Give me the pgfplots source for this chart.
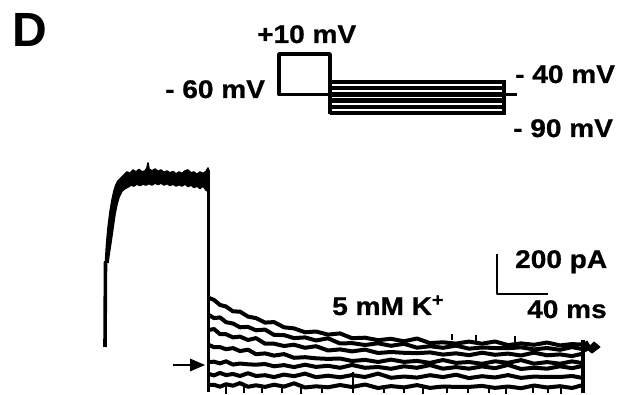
\documentclass[border=0pt]{standalone}
\usepackage{fontspec}
\usepackage{pgfplots}
\pgfplotsset{compat=1.18}
\newfontfamily\lab[FakeStretch=1.1, FakeBold=0.8]{Liberation Sans}
\newfontfamily\labD{Liberation Sans}
\newcommand\labfont{\lab\bfseries\fontsize{25.5}{26}\selectfont}
\begin{document}
\begin{tikzpicture}
\useasboundingbox (0,0) rectangle (622pt,395pt);
\begin{axis}[at={(0,0)}, anchor=south west, scale only axis, width=622pt, height=395pt,
  xmin=0, xmax=622, ymin=0, ymax=395, y dir=reverse, hide axis, clip=false,
  every axis plot/.append style={black, line join=round, mark=none}]
% ---------- voltage protocol ----------
\addplot[line width=3.6pt] coordinates {(330,94.4) (279,94.4) (279,54) (330,54) (330,114)};
\addplot[line width=4.4pt] coordinates {(330,82) (504,82)};
\addplot[line width=4.4pt] coordinates {(330,88.2) (504,88.2)};
\addplot[line width=4.4pt] coordinates {(330,94.4) (504,94.4)};
\addplot[line width=4.4pt] coordinates {(330,100.6) (504,100.6)};
\addplot[line width=4.4pt] coordinates {(330,106.8) (504,106.8)};
\addplot[line width=4.4pt] coordinates {(330,113) (504,113)};
\addplot[line width=3.6pt] coordinates {(504,80) (504,115)};
\addplot[line width=3.6pt] coordinates {(504,94.4) (517,94.4)};
% ---------- scale bar ----------
\addplot[line width=2.8pt] coordinates {(497,254) (497,294) (548,294)};
% ---------- main step current ----------
\addplot[line width=3.6pt] coordinates {(105,347) (105.5,262) (107,262)};
\addplot[fill=black, draw=black, line width=1.6pt] coordinates {
 (105.5,262) (106.5,245) (108,228) (110,212) (112,200) (114,191) (116,185) (118,181) (121,178)
 (124,175) (127,172) (130,173.5) (133,170) (136,172) (139,169.5) (142,172) (145,171) (147,168)
 (148,163) (149,169) (152,171) (155,169) (158,171.5) (161,170) (164,172.5) (167,171) (170,173)
 (173,171.5) (176,174) (179,172) (182,173.5) (185,171) (188,170) (191,173) (194,172) (197,174.5)
 (200,172) (203,173.5) (206,171.5) (208,168) (209,172)
 (209,192) (206,190) (203,186) (200,188.5) (197,186) (194,187.5) (191,185) (188,186.5) (185,184)
 (182,186) (179,184.5) (176,186) (173,184) (170,185.5) (167,183.5) (164,185) (161,183) (158,184.5)
 (155,183) (152,185) (149,183.5) (146,185) (143,184) (140,185.5) (137,184) (134,186) (131,185)
 (128,187) (125,188.5) (122,191) (119,197) (117,204) (115,214) (113,228) (111,242) (109,255) (108,263)};
\addplot[line width=3.8pt] coordinates {(208.5,170) (208.5,392)};
% ---------- tail currents ----------
\addplot[line width=4pt] coordinates {
(209,298) (214,299.9) (220,305) (226,306.5) (233,311.4) (240,311.6) (248,316.6) (256,318.1)
(265,322.6) (274,322.1) (284,327.3) (294,328.4) (305,332.3) (316,331.5) (328,334.6) (340,333.4)
(352,338.2) (365,337.7) (378,340.2) (391,338.8) (404,341.3) (417,338.5) (430,343.1) (443,342.3)
(456,343.6) (469,341.6) (482,343.7) (495,341.5) (508,345.1) (521,343.4) (534,344.8) (547,342.5)
(560,345.4) (572,344.1) (583,344.6)};
\addplot[line width=4pt] coordinates {
(209,315) (214,318.1) (220,317.4) (226,322.2) (233,323.5) (240,327.3) (248,326.9) (256,330.3)
(265,329.6) (274,334.9) (284,335.1) (294,338.1) (305,337.4) (316,340.5) (328,338.3) (340,343.5)
(352,343.1) (365,345) (378,343.3) (391,345.8) (404,343.8) (417,347.7) (430,346.2) (443,347.8)
(456,345.6) (469,348.7) (482,347.5) (495,348) (508,348.2) (521,347.3) (534,349.4) (547,348)
(560,349.8) (572,347.1) (583,349.2)};
\addplot[line width=4pt] coordinates {
(209,330) (214,329) (220,334.2) (226,334.2) (233,337.4) (240,336.6) (248,340) (256,338.1)
(265,343.7) (274,343.7) (284,346) (294,344.7) (305,347.8) (316,346.2) (328,350.5) (340,349.4)
(352,351.4) (365,349.6) (378,353) (391,352) (404,352.8) (417,353.2) (430,352.4) (443,354.6)
(456,353.3) (469,355.2) (482,352.7) (495,354.8) (508,353.6) (521,355.5) (534,352.6) (547,355.3)
(560,354.4) (572,356.1) (583,353.6)};
\addplot[line width=4pt] coordinates {
(209,345) (214,347.2) (220,347.1) (226,349.2) (233,348.1) (240,351.1) (248,349.7) (256,354.2)
(265,353.4) (274,355.6) (284,354.1) (294,357.8) (305,357.2) (316,358.3) (328,358.9) (340,358.5)
(352,361) (365,359.9) (378,362) (391,359.6) (404,361.9) (417,360.9) (430,362.9) (443,360)
(456,362.9) (469,362) (482,363.8) (495,361.3) (508,362.8) (521,360.1) (534,363.7) (547,362.1)
(560,363.7) (572,361.4) (583,363.2)};
\addplot[line width=4pt] coordinates {
(209,362) (214,361.7) (220,363.4) (226,361.3) (233,364.6) (240,363.5) (248,364.3) (256,364.7)
(265,364) (274,366.3) (284,365.1) (294,367.1) (305,364.7) (316,366.9) (328,365.8) (340,367.8)
(352,365) (365,367.8) (378,367) (391,368.8) (404,366.3) (417,367.8) (430,365.1) (443,368.7)
(456,367.1) (469,368.7) (482,366.4) (495,368.2) (508,364.9) (521,369) (534,367.7) (547,368.7)
(560,366.3) (572,368.2) (583,365.8)};
\addplot[line width=4pt] coordinates {
(209,374) (214,375.4) (220,372.9) (226,375.1) (233,374) (240,376) (248,373.2) (256,376)
(265,375.2) (274,377.1) (284,374.6) (294,376.2) (305,373.6) (316,377.2) (328,375.7) (340,377.3)
(352,375.1) (365,377) (378,373.6) (391,377.8) (404,376.5) (417,377.6) (430,375.2) (443,377.1)
(456,374.7) (469,378.1) (482,376.2) (495,377.5) (508,375.1) (521,377.9) (534,376.6) (547,377)
(560,377) (572,376) (583,378)};
\addplot[line width=4pt] coordinates {
(209,385) (214,384.8) (220,386.7) (226,384.2) (233,385.7) (240,383.1) (248,386.8) (256,385.3)
(265,386.9) (274,384.7) (284,386.6) (294,383.3) (305,387.5) (316,386.3) (328,387.3) (340,385)
(352,387) (365,384.5) (378,388) (391,386.1) (404,387.4) (417,385.1) (430,387.9) (443,386.5)
(456,386.9) (469,386.9) (482,385.9) (495,387.9) (508,386.5) (521,388.2) (534,385.5) (547,387.5)
(560,386.2) (572,388) (583,385)};
% spikes
\addplot[line width=1.8pt, unbounded coords=jump] coordinates {
(226,386) (226,394) (226,nan) (244,386) (244,393) (244,nan) (262,386) (262,393) (262,nan)
(282,386) (282,393) (282,nan) (301,386) (301,394) (301,nan) (322,386) (322,393) (322,nan)
(353,372) (353,393) (353,nan) (384,386) (384,393) (384,nan) (404,386) (404,393) (404,nan)
(423,386) (423,394) (423,nan) (447,386) (447,393) (447,nan)
(468,386) (468,393) (468,nan) (489,386) (489,393) (489,nan) (506,386) (506,394) (506,nan)
(533,386) (533,393) (533,nan) (548,386) (548,393) (548,nan)
(561,386) (561,394) (561,nan)
(452,340) (452,334) (452,nan) (476,341) (476,335) (476,nan) (515,342) (515,336) (515,nan)};
\addplot[line width=3.6pt] coordinates {(583,340) (583,393)};
\addplot[fill=black, draw=black, line width=1pt] coordinates {
(583,344) (587,341) (590,346) (594,342) (600,347) (596,350) (592,353) (588,350) (583,353)};
% ---------- arrow ----------
\addplot[line width=2.8pt] coordinates {(173,365) (194,365)};
\addplot[fill=black, draw=none] coordinates {(190,358.5) (205,365) (190,371.5)};
% ---------- labels ----------
\node[anchor=base west, inner sep=0pt, font=\labD\bfseries\fontsize{48}{48}\selectfont] at (12,47) {D};
\node[anchor=base west, inner sep=0pt, font=\labfont] at (257,43) {+10 mV};
\node[anchor=base west, inner sep=0pt, font=\labfont] at (165,98) {- 60 mV};
\node[anchor=base west, inner sep=0pt, font=\labfont] at (515,83) {- 40 mV};
\node[anchor=base west, inner sep=0pt, font=\labfont] at (513,137) {- 90 mV};
\node[anchor=base west, inner sep=0pt, font=\labfont] at (515,268) {200 pA};
\node[anchor=base west, inner sep=0pt, font=\labfont] at (527,318) {40 ms};
\node[anchor=base west, inner sep=0pt, font=\labfont] at (332,315) {5 mM K\raisebox{9pt}{\fontsize{18}{18}\selectfont +}};
\end{axis}
\end{tikzpicture}
\end{document}
